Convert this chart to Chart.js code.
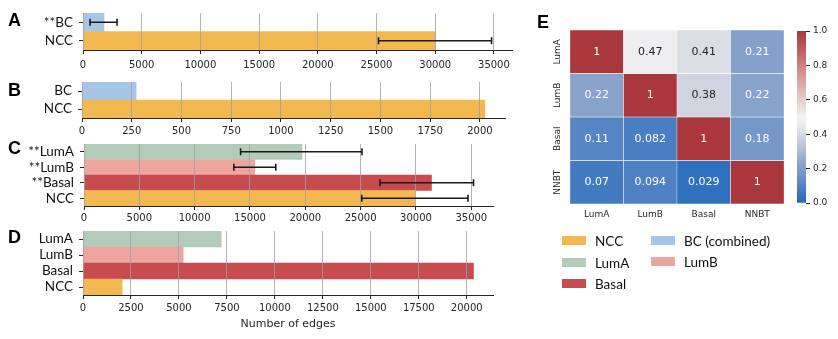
<!DOCTYPE html>
<html><head><meta charset="utf-8">
<script src="https://cdn.jsdelivr.net/npm/chart.js@4.4.0/dist/chart.umd.min.js"></script>
<style>
body{margin:0;background:#fff;width:838px;height:339px;overflow:hidden;position:relative;}
canvas{position:absolute;}
.letter{position:absolute;font:bold 18px 'Liberation Sans';line-height:18px;color:#000;}
.leg{position:absolute;font:13.5px Lato;color:#111;line-height:14px;white-space:nowrap;}
.sw{position:absolute;width:24px;height:9px;}
</style></head><body>
<canvas id="cA" width="520" height="75" style="left:0;top:0"></canvas>
<canvas id="cB" width="520" height="70" style="left:0;top:70px"></canvas>
<canvas id="cC" width="520" height="95" style="left:0;top:135px"></canvas>
<canvas id="cD" width="520" height="114" style="left:0;top:225px"></canvas>
<canvas id="cE" width="250" height="230" style="left:540px;top:0"></canvas>
<canvas id="cCB" width="58" height="230" style="left:780px;top:0"></canvas>
<div class="letter" style="left:8px;top:11px">A</div>
<div class="letter" style="left:8px;top:81px">B</div>
<div class="letter" style="left:8px;top:139px">C</div>
<div class="letter" style="left:8px;top:228px">D</div>
<div class="letter" style="left:537px;top:13px">E</div>
<div id="legend"></div>
<script>
// ---------- data ----------
const catsA = ['**BC', 'NCC'];
const valsA = [1790, 30000];
const loA = [600, 25170];
const hiA = [2900, 34800];
const ticksA = [0, 5000, 10000, 15000, 20000, 25000, 30000, 35000];

const catsB = ['BC', 'NCC'];
const valsB = [272, 2025];
const ticksB = [0, 250, 500, 750, 1000, 1250, 1500, 1750, 2000];

const catsC = ['**LumA', '**LumB', '**Basal', 'NCC'];
const valsC = [19700, 15430, 31400, 29900];
const loC = [14150, 13540, 26750, 25100];
const hiC = [25120, 17330, 35200, 34700];
const ticksC = [0, 5000, 10000, 15000, 20000, 25000, 30000, 35000];

const catsD = ['LumA', 'LumB', 'Basal', 'NCC'];
const valsD = [7200, 5220, 20350, 2040];
const ticksD = [0, 2500, 5000, 7500, 10000, 12500, 15000, 17500, 20000];

const hmRows = ['LumA', 'LumB', 'Basal', 'NNBT'];
const hmCols = ['LumA', 'LumB', 'Basal', 'NNBT'];
const hmVals = [
  [1, 0.47, 0.41, 0.21],
  [0.22, 1, 0.38, 0.22],
  [0.11, 0.082, 1, 0.18],
  [0.07, 0.094, 0.029, 1]
];
const cbTicks = [0.0, 0.2, 0.4, 0.6, 0.8, 1.0];

const legendItems = ['NCC', 'BC (combined)', 'LumA', 'LumB', 'Basal'];

// ---------- styles ----------
const groupColors = {NCC:'#f4b850', BC:'#a7c5e6', 'BC (combined)':'#a7c5e6', LumA:'#b3cbb9', LumB:'#eca69e', Basal:'#c84c4f'};

const cmapStops = [
  [0.0, [35,105,189]],
  [0.25, [150,170,204]],
  [0.375, [206,210,223]],
  [0.44, [232,232,236]],
  [0.5, [244,242,242]],
  [0.75, [216,146,145]],
  [1.0, [169,55,59]]
];
function cmapRGB(v){
  v = Math.max(0, Math.min(1, v));
  for (let i=1;i<cmapStops.length;i++){
    const [p1,c1]=cmapStops[i-1],[p2,c2]=cmapStops[i];
    if (v<=p2){ const t=(v-p1)/(p2-p1); return c1.map((c,k)=>Math.round(c+(c2[k]-c)*t)); }
  }
  return cmapStops[cmapStops.length-1][1];
}
function cmap(v){ const c=cmapRGB(v); return `rgb(${c[0]},${c[1]},${c[2]})`; }
function lum(c){ const l=c.map(x=>{x/=255;return x<=0.03928?x/12.92:Math.pow((x+0.055)/1.055,2.4);}); return 0.2126*l[0]+0.7152*l[1]+0.0722*l[2]; }

Chart.defaults.font.family = 'DejaVu Sans';

function makeBarPanel(cfg){
  const colors = cfg.cats.map(c => groupColors[c.replace(/\*/g,'')]);
  const xmax = 1.05 * Math.max(...(cfg.hi || cfg.vals));
  const errPlugin = {
    id: 'err' + cfg.id,
    afterDraw(chart){
      if (!cfg.lo) return;
      const ctx = chart.ctx, xs = chart.scales.x, ys = chart.scales.y;
      ctx.save();
      ctx.strokeStyle = '#1a1a1a'; ctx.lineWidth = 1.6;
      cfg.lo.forEach((lo,i)=>{
        const y = ys.getPixelForValue(i);
        const x1 = xs.getPixelForValue(lo), x2 = xs.getPixelForValue(cfg.hi[i]);
        ctx.beginPath();
        ctx.moveTo(x1,y); ctx.lineTo(x2,y);
        ctx.moveTo(x1,y-3.5); ctx.lineTo(x1,y+3.5);
        ctx.moveTo(x2,y-3.5); ctx.lineTo(x2,y+3.5);
        ctx.stroke();
      });
      ctx.restore();
    }
  };
  new Chart(document.getElementById(cfg.id), {
    type: 'bar',
    data: { labels: cfg.cats, datasets: [{ data: cfg.vals, backgroundColor: colors, barPercentage: 1, categoryPercentage: 1, borderWidth: 0 }] },
    options: {
      indexAxis: 'y', responsive: false, animation: false, events: [],
      layout: { padding: { top: cfg.top, right: cfg.right, left: 0, bottom: 0 } },
      plugins: { legend: { display: false }, tooltip: { enabled: false } },
      scales: {
        x: {
          type: 'linear', min: 0, max: xmax,
          afterBuildTicks: s => { s.ticks = cfg.ticks.map(v => ({ value: v })); },
          ticks: { callback: v => String(v), font: { family: 'DejaVu Sans', size: 10 }, color: '#262626', padding: cfg.tickPad, maxRotation: 0, autoSkip: false },
          grid: { color: 'rgba(160,160,160,0.8)', lineWidth: 1, tickColor: '#262626', tickLength: 4, z: 1 },
          border: { color: '#262626', width: 1, z: 2 },
          afterFit: s => { s.height = cfg.xh; s.paddingLeft = 0; s.paddingRight = 0; },
          title: cfg.title ? { display: true, text: cfg.title, font: { family: 'DejaVu Sans', size: 11 }, color: '#262626', padding: { top: 2, bottom: 8 } } : { display: false }
        },
        y: {
          type: 'category',
          ticks: { font: { family: 'Lato', size: 13.5 }, color: '#111', padding: 6, autoSkip: false },
          grid: { drawOnChartArea: false, drawTicks: true, tickLength: 4, tickColor: '#262626', offset: false, lineWidth: 1 },
          border: { display: false },
          afterFit: s => { s.width = cfg.yw; s.paddingTop = 0; s.paddingBottom = 0; }
        }
      }
    },
    plugins: [errPlugin]
  });
}

makeBarPanel({ id:'cA', cats:catsA, vals:valsA, lo:loA, hi:hiA, ticks:ticksA, top:13, right:8, xh:25, yw:83, tickPad:5 });
makeBarPanel({ id:'cB', cats:catsB, vals:valsB, ticks:ticksB, top:12, right:15, xh:22, yw:82, tickPad:3 });
makeBarPanel({ id:'cC', cats:catsC, vals:valsC, lo:loC, hi:hiC, ticks:ticksC, top:9, right:27, xh:24, yw:84, tickPad:2 });
makeBarPanel({ id:'cD', cats:catsD, vals:valsD, ticks:ticksD, top:6, right:27, xh:44, yw:83, tickPad:3, title:'Number of edges' });

// ---------- heatmap ----------
const hmPlugin = {
  id: 'hmText',
  afterDatasetsDraw(chart){
    const ctx = chart.ctx;
    ctx.save();
    ctx.textAlign = 'center'; ctx.textBaseline = 'middle';
    ctx.font = '11px "DejaVu Sans"';
    chart.data.datasets.forEach((ds, r) => {
      chart.getDatasetMeta(r).data.forEach((el, c) => {
        const v = hmVals[r][c];
        ctx.fillStyle = lum(cmapRGB(v)) > 0.408 ? '#262626' : '#ffffff';
        ctx.fillText(String(v), el.x, (el.y + el.base) / 2);
      });
    });
    const ys = chart.scales.y;
    ctx.font = '9px "DejaVu Sans"';
    ctx.fillStyle = '#262626';
    hmRows.forEach((lab, r) => {
      const y = ys.getPixelForValue(r + 0.5);
      ctx.save();
      ctx.translate(chart.chartArea.left - 12, y);
      ctx.rotate(-Math.PI / 2);
      ctx.fillText(lab, 0, 0);
      ctx.restore();
    });
    ctx.restore();
  }
};
new Chart(document.getElementById('cE'), {
  type: 'bar',
  data: {
    labels: hmCols,
    datasets: hmRows.map((row, i) => ({
      data: hmCols.map(() => [i, i + 1]),
      backgroundColor: hmVals[i].map(cmap),
      borderColor: 'rgba(255,255,255,0.85)', borderWidth: 0.5, borderSkipped: false,
      barPercentage: 1, categoryPercentage: 1, grouped: false
    }))
  },
  options: {
    responsive: false, animation: false, events: [],
    layout: { padding: { top: 30, right: 6, left: 0, bottom: 0 } },
    plugins: { legend: { display: false }, tooltip: { enabled: false } },
    scales: {
      x: { ticks: { font: { family: 'DejaVu Sans', size: 9 }, color: '#262626', padding: 5 }, grid: { display: false, drawTicks: false }, border: { display: false }, afterFit: s => { s.height = 26; } },
      y: { type: 'linear', min: 0, max: hmRows.length, reverse: true, ticks: { display: false }, grid: { display: false, drawTicks: false }, border: { display: false }, afterFit: s => { s.width = 30; } }
    }
  },
  plugins: [hmPlugin]
});

// ---------- colorbar ----------
new Chart(document.getElementById('cCB'), {
  type: 'bar',
  data: {
    labels: ['cb'],
    datasets: [{
      data: [[cbTicks[0], cbTicks[cbTicks.length - 1]]],
      barPercentage: 1, categoryPercentage: 1, borderWidth: 0,
      backgroundColor: (ctx) => {
        const ca = ctx.chart.chartArea;
        if (!ca) return '#888';
        const g = ctx.chart.ctx.createLinearGradient(0, ca.bottom, 0, ca.top);
        for (let i = 0; i <= 40; i++) g.addColorStop(i / 40, cmap(i / 40));
        return g;
      }
    }]
  },
  options: {
    responsive: false, animation: false, events: [],
    layout: { padding: { top: 31, left: 17, bottom: 27, right: 0 } },
    plugins: { legend: { display: false }, tooltip: { enabled: false } },
    scales: {
      x: { display: false },
      y: {
        position: 'right', min: 0, max: 1,
        afterBuildTicks: s => { s.ticks = cbTicks.map(v => ({ value: v })); },
        ticks: { callback: v => v.toFixed(1), font: { family: 'DejaVu Sans', size: 9 }, color: '#262626', padding: 3 },
        grid: { drawOnChartArea: false, drawTicks: true, tickLength: 4, tickColor: '#262626' },
        border: { display: false },
        afterFit: s => { s.width = 32; s.paddingTop = 0; s.paddingBottom = 0; }
      }
    }
  }
});

// ---------- legend ----------
const legPos = [[562, 240.5], [651, 240.5], [562, 262.5], [651, 261.5], [562, 283.5]];
const legEl = document.getElementById('legend');
legendItems.forEach((name, i) => {
  const [x, y] = legPos[i];
  const sw = document.createElement('div');
  sw.className = 'sw'; sw.style.left = x + 'px'; sw.style.top = (y - 4.5) + 'px';
  sw.style.background = groupColors[name];
  legEl.appendChild(sw);
  const t = document.createElement('div');
  t.className = 'leg'; t.style.left = (x + 33) + 'px'; t.style.top = (y - 7) + 'px';
  t.textContent = name;
  legEl.appendChild(t);
});
</script>
</body></html>
